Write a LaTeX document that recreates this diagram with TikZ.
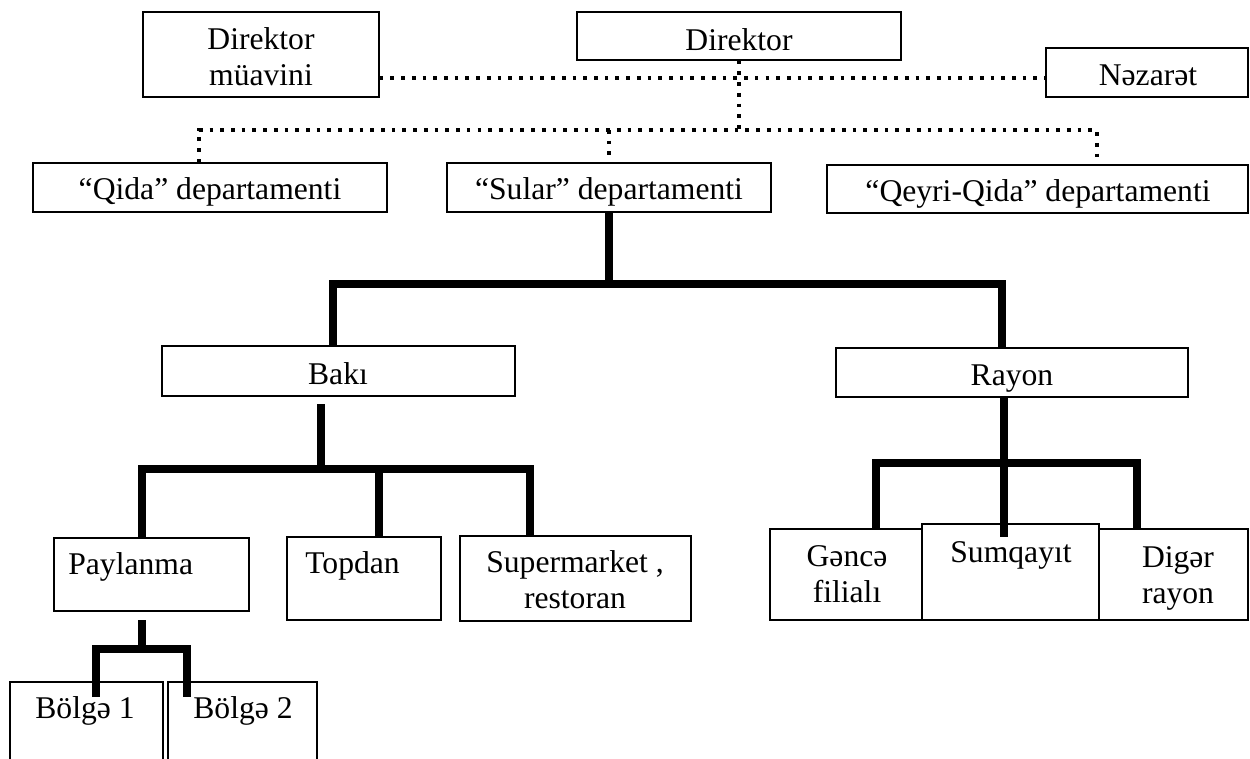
\documentclass[tikz,border=0pt]{standalone}
\usepackage{fontspec}
\setmainfont{Liberation Serif}

\tikzset{
  box/.style={draw, line width=0.8pt, inner sep=0pt},
  txt/.style={font=\fontsize{18}{20.5}\selectfont, inner sep=0pt},
  dotline/.style={line width=2.1pt, dash pattern=on 2.1pt off 4pt},
  barline/.style={line width=4.4pt},
}

\begin{document}
\begin{tikzpicture}[x=0.02cm, y=-0.02cm]
\useasboundingbox (0,0) rectangle (1250,758);
\clip (0,0) rectangle (1250,758);

% boxes
\node[box, minimum width=4.72cm, minimum height=1.70cm] (muav) at (261,54.5) {};
\node[box, minimum width=6.48cm, minimum height=0.96cm] (dir) at (739,36) {};
\node[box, minimum width=4.04cm, minimum height=0.98cm] (nez) at (1147,72.5) {};
\node[box, minimum width=7.08cm, minimum height=0.98cm] (qida) at (210,187.5) {};
\node[box, minimum width=6.48cm, minimum height=0.98cm] (sular) at (609,187.5) {};
\node[box, minimum width=8.42cm, minimum height=0.96cm] (qeyri) at (1037.5,189) {};
\node[box, minimum width=7.06cm, minimum height=1.00cm] (baki) at (338.5,371) {};
\node[box, minimum width=7.04cm, minimum height=0.98cm] (rayon) at (1012,372.5) {};
\node[box, minimum width=3.90cm, minimum height=1.46cm] (payl) at (151.5,574.5) {};
\node[box, minimum width=3.08cm, minimum height=1.66cm] (topdan) at (364,578.5) {};
\node[box, minimum width=4.62cm, minimum height=1.70cm] (super) at (575.5,578.5) {};
\node[box, minimum width=3.06cm, minimum height=1.76cm] (bolge1) at (86.5,726) {};
\node[box, minimum width=2.98cm, minimum height=1.76cm] (bolge2) at (242.5,726) {};
\node[box, minimum width=3.04cm, minimum height=1.82cm] (gence) at (846,574.5) {};
\node[box, minimum width=3.54cm, minimum height=1.92cm] (sumq) at (1010.5,572) {};
\node[box, minimum width=2.98cm, minimum height=1.82cm] (diger) at (1173.5,574.5) {};

% texts
\node[txt, align=center] (muavT) at (261,57) {Direktor\\müavini};
\node[txt, anchor=base] (dirT) at (739,50) {Direktor};
\node[txt, anchor=base] (nezT) at (1148,85) {Nəzarət};
\node[txt, anchor=base] (qidaT) at (210,199) {“Qida” departamenti};
\node[txt, anchor=base] (sularT) at (609,199) {“Sular” departamenti};
\node[txt, anchor=base] (qeyriT) at (1038,201) {“Qeyri-Qida” departamenti};
\node[txt, anchor=base] (bakiT) at (338,384) {Bakı};
\node[txt, anchor=base] (rayonT) at (1012,385) {Rayon};
\node[txt, anchor=base west] (paylT) at (68,574) {Paylanma};
\node[txt, anchor=base west] (topdanT) at (305,573) {Topdan};
\node[txt, align=center] (superT) at (575,580) {Supermarket ,\\restoran};
\node[txt, anchor=base] (bolge1T) at (85,718) {Bölgə 1};
\node[txt, anchor=base] (bolge2T) at (243,718) {Bölgə 2};
\node[txt, align=center] (genceT) at (847,574.5) {Gəncə\\filialı};
\node[txt, anchor=base] (sumqT) at (1011,562) {Sumqayıt};
\node[txt, align=center] (digerT) at (1178,578) {Digər\\rayon};

% dotted links
\coordinate (jtop) at (739,78);
\coordinate (jmid) at (739,130);
\coordinate (dq) at (199,130);
\coordinate (dk) at (1097,130);
\draw[dotline] (muav.east |- jtop) -- (nez.west |- jtop);
\draw[dotline] (dir.south) -- (jmid);
\draw[dotline] (dq |- qida.north) -- (dq) -- (dk) -- (dk |- qeyri.north);
\draw[dotline] (jmid -| sular.north) -- (sular.north);

% thick links
\coordinate (js) at (609,284);
\coordinate (jb) at (333,284);
\coordinate (jr) at (1002,284);
\draw[barline] (sular.south) -- (js);
\draw[barline] (jb |- baki.north) -- (jb) -- (jr) -- (jr |- rayon.north);

\coordinate (bkTop) at (321,404);
\coordinate (jbk) at (321,469);
\coordinate (jp) at (142,469);
\coordinate (jt) at (379,469);
\coordinate (jsm) at (530,469);
\draw[barline] (bkTop) -- (jbk);
\draw[barline] (jp |- payl.north) -- (jp) -- (jsm) -- (jsm |- super.north);
\draw[barline] (jt) -- (jt |- topdan.north);

\coordinate (pTop) at (142,620);
\coordinate (jpb) at (142,649);
\coordinate (jb1) at (96,649);
\coordinate (jb2) at (187,649);
\coordinate (b1end) at (96,697);
\coordinate (b2end) at (187,697);
\draw[barline] (pTop) -- (jpb);
\draw[barline] (b1end) -- (jb1) -- (jb2) -- (b2end);

\coordinate (jr2) at (1004,463);
\coordinate (jg) at (876,463);
\coordinate (jd) at (1137,459);
\coordinate (smEnd) at (1004,537);
\draw[barline] (rayon.south -| jr2) -- (smEnd);
\draw[barline] (jg |- gence.north) -- (jg) -- (jd |- jg);
\draw[barline] (jd) -- (jd |- diger.north);
\end{tikzpicture}
\end{document}
